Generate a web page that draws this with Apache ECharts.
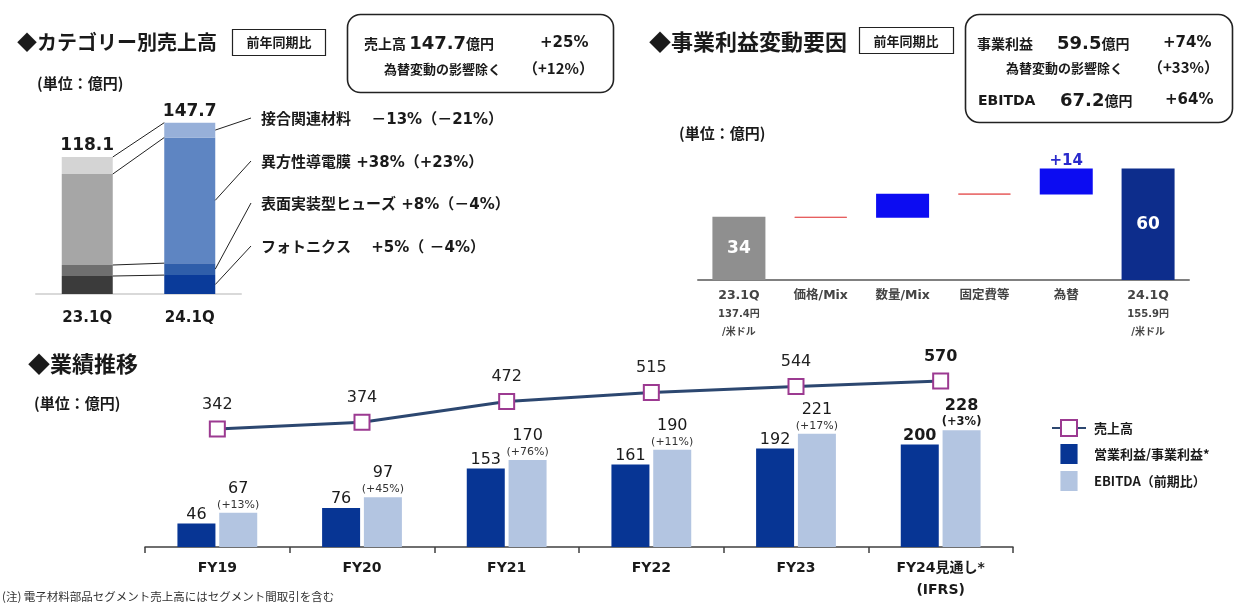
<!DOCTYPE html>
<html><head><meta charset="utf-8">
<script src="https://cdn.jsdelivr.net/npm/echarts@6/dist/echarts.min.js"></script>
<style>html,body{margin:0;padding:0;background:#fff}#c{width:1236px;height:610px}</style>
</head><body><div id="c"></div><script>
// ---------- DATA ----------
const quarters = ['23.1Q', '24.1Q'];
const quarterTotals = [118.1, 147.7];
const segNames = ['フォトニクス', '表面実装型ヒューズ', '異方性導電膜', '接合関連材料'];
const segPhotonics = [15.5, 16.3];
const segFuse = [9.5, 10.3];
const segACF = [78.4, 108.3];
const segBonding = [14.7, 12.8];
const segNotes = ['フォトニクス　 +5%（ －4%）', '表面実装型ヒューズ +8%（－4%）', '異方性導電膜 +38%（+23%）', '接合関連材料　 －13%（－21%）'];

const wfCategories = ['23.1Q', '価格/Mix', '数量/Mix', '固定費等', '為替', '24.1Q'];
const wfSubLabels = [['137.4円', '/米ドル'], [], [], [], [], ['155.9円', '/米ドル']];
const wfValues = [34, -0.5, 13, -0.5, 14, 60];

const fyCategories = ['FY19', 'FY20', 'FY21', 'FY22', 'FY23', 'FY24見通し*\n(IFRS)'];
const salesValues = [342, 374, 472, 515, 544, 570];
const opProfitValues = [46, 76, 153, 161, 192, 200];
const ebitdaValues = [67, 97, 170, 190, 221, 228];
const ebitdaGrowth = ['+13%', '+45%', '+76%', '+11%', '+17%', '+3%'];

// ---------- STYLE ----------
const FONT = "'DejaVu Sans','Noto Sans CJK JP',sans-serif";
const JFONT = "'Noto Sans CJK JP','DejaVu Sans',sans-serif";
const TXT = '#1a1a1a';
const grayCols = ['#3b3b3b', '#6f6f6f', '#a6a6a6', '#d4d4d4'];
const blueCols = ['#0a3b9a', '#2f5eaa', '#5e85c2', '#97b0d9'];
const BAR1_W = 51;

const chart = echarts.init(document.getElementById('c'), null, {renderer: 'canvas'});

const segData = [segPhotonics, segFuse, segACF, segBonding];
const catSeries = segData.map((arr, s) => ({
  type: 'bar', name: segNames[s], xAxisIndex: 0, yAxisIndex: 0, stack: 'cat', barWidth: BAR1_W,
  silent: true,
  data: arr.map((v, i) => ({value: v, itemStyle: {color: i === 0 ? grayCols[s] : blueCols[s]}})),
  label: s === 3 ? {show: true, position: 'top', distance: 3, fontFamily: FONT, fontSize: 17, fontWeight: 'bold', color: TXT,
    formatter: p => quarterTotals[p.dataIndex].toFixed(1)} : {show: false}
}));

// waterfall helpers
const wfBase = [], wfHeight = [];
let running = 0;
wfValues.forEach((v, i) => {
  if (i === 0 || i === wfValues.length - 1) { wfBase.push(0); wfHeight.push(v); running = v; }
  else if (v >= 0) { wfBase.push(running); wfHeight.push(v); running += v; }
  else { wfBase.push(running + v); wfHeight.push(-v); running += v; }
});
const lastIdx = wfValues.length - 1;
const wfDeltaData = wfHeight.map((h, i) => {
  const v = wfValues[i];
  let color = i === 0 ? '#8f8f8f' : (i === lastIdx ? '#0d2d8c' : (v >= 0 ? '#0c0cf2' : '#e65a5a'));
  const item = {value: h, itemStyle: {color: color, borderColor: v < 0 ? '#e65a5a' : color, borderWidth: v < 0 ? 1 : 0}};
  if (i === 0 || i === lastIdx) {
    item.label = {show: true, position: 'inside', color: '#fff', fontSize: 17, fontWeight: 'bold', fontFamily: FONT, formatter: String(v)};
  } else if (wfCategories[i] === '為替') {
    item.label = {show: true, position: 'top', distance: 0, color: '#2a2acc', fontSize: 15, fontWeight: 'bold', fontFamily: FONT, formatter: '+' + v};
  }
  return item;
});

const option = {
  animation: false,
  backgroundColor: '#fff',
  grid: [
    {left: 36, width: 205, top: 120, height: 174, outerBoundsMode: 'none'},
    {left: 698, width: 491, top: 150, height: 130, outerBoundsMode: 'none'},
    {left: 145, width: 868, top: 340, height: 207, outerBoundsMode: 'none'}
  ],
  xAxis: [
    {type: 'category', gridIndex: 0, data: quarters,
      axisLine: {lineStyle: {color: '#d9d9d9', width: 2}}, axisTick: {show: false},
      axisLabel: {margin: 17, fontSize: 15, fontWeight: 'bold', color: TXT, fontFamily: FONT}},
    {type: 'category', gridIndex: 1, data: wfCategories,
      axisLine: {lineStyle: {color: '#808080', width: 2}}, axisTick: {show: false},
      axisLabel: {margin: 7, interval: 0, color: '#444',
        formatter: (val, idx) => ['{a|' + val + '}'].concat(wfSubLabels[idx].map(s => '{b|' + s + '}')).join('\n'),
        rich: {a: {fontSize: 12.5, fontWeight: 'bold', fontFamily: FONT, color: '#444', lineHeight: 18},
               b: {fontSize: 10, fontWeight: 'bold', fontFamily: FONT, color: '#444', lineHeight: 18}}}},
    {type: 'category', gridIndex: 2, data: fyCategories,
      axisLine: {lineStyle: {color: '#404040', width: 1.5}},
      axisTick: {show: true, length: 6, lineStyle: {color: '#404040', width: 1.5}},
      axisLabel: {margin: 10, interval: 0, fontSize: 14, fontWeight: 'bold', color: TXT, fontFamily: FONT, lineHeight: 22}}
  ],
  yAxis: [
    {type: 'value', gridIndex: 0, min: 0, max: 150, show: false},
    {type: 'value', gridIndex: 1, min: 0, max: 70, show: false},
    {type: 'value', gridIndex: 2, min: 0, max: 404, show: false},
    {type: 'value', gridIndex: 2, min: -220, max: 765, show: false}
  ],
  legend: {
    orient: 'vertical', left: 1046, top: 414, itemWidth: 34, itemHeight: 20, itemGap: 7, selectedMode: false,
    textStyle: {fontSize: 13, fontWeight: 'bold', color: TXT, fontFamily: JFONT, padding: [0, 0, 0, 3]},
    data: [{name: '売上高'},
      {name: '営業利益/事業利益*', icon: 'path://M0,0h18v21h-18z'},
      {name: 'EBITDA（前期比）', icon: 'path://M0,0h18v21h-18z'}]
  },
  series: catSeries.concat([
    {type: 'bar', name: 'wfBase', xAxisIndex: 1, yAxisIndex: 1, stack: 'wf', barWidth: 53, silent: true,
      itemStyle: {color: 'transparent'}, data: wfBase},
    {type: 'bar', name: 'wfDelta', xAxisIndex: 1, yAxisIndex: 1, stack: 'wf', barWidth: 53, silent: true,
      data: wfDeltaData},
    {type: 'bar', name: '営業利益/事業利益*', xAxisIndex: 2, yAxisIndex: 2, barWidth: 38, barGap: '10%',
      itemStyle: {color: '#073594'},
      data: opProfitValues.map((v, i) => ({value: v, label: {fontWeight: i === opProfitValues.length - 1 ? 'bold' : 'normal'}})),
      label: {show: true, position: 'top', distance: 1, fontSize: 16, color: TXT, fontFamily: FONT, lineHeight: 16}},
    {type: 'bar', name: 'EBITDA（前期比）', xAxisIndex: 2, yAxisIndex: 2, barWidth: 38,
      itemStyle: {color: '#b3c5e1'},
      data: ebitdaValues,
      label: {show: true, position: 'top', distance: 1,
        formatter: p => {
          const last = p.dataIndex === ebitdaValues.length - 1;
          return last ? '{vb|' + p.value + '}\n{pb|(' + ebitdaGrowth[p.dataIndex] + ')}'
                      : '{v|' + p.value + '}\n{p|(' + ebitdaGrowth[p.dataIndex] + ')}';
        },
        rich: {v: {fontSize: 16, color: TXT, fontFamily: FONT, lineHeight: 18},
               p: {fontSize: 11, color: '#333', fontFamily: FONT, lineHeight: 14},
               vb: {fontSize: 16, fontWeight: 'bold', color: TXT, fontFamily: FONT, lineHeight: 18},
               pb: {fontSize: 11.5, fontWeight: 'bold', color: TXT, fontFamily: FONT, lineHeight: 14}}}},
    {type: 'line', name: '売上高', xAxisIndex: 2, yAxisIndex: 3, data: salesValues,
      symbol: 'rect', symbolSize: 15, z: 5,
      lineStyle: {color: '#2c4770', width: 3},
      itemStyle: {color: '#fff', borderColor: '#9c3a91', borderWidth: 2},
      label: {show: true, position: 'top', distance: 8, fontSize: 16, color: '#222', fontFamily: FONT,
        formatter: p => p.dataIndex === salesValues.length - 1 ? '{b|' + p.value + '}' : String(p.value),
        rich: {b: {fontSize: 16, fontWeight: 'bold', color: TXT, fontFamily: FONT}}}}
  ])
};
chart.setOption(option);

// ---------- decorations (texts, boxes, connector lines) ----------
function T(text, x, y, size, o) {
  o = o || {};
  return {type: 'text', x: x, y: y, silent: true, z: 10,
    style: {text: text, fontSize: size, fontWeight: o.w || 'bold', fontFamily: o.f || JFONT, fill: o.c || TXT,
      align: o.a || 'left', textAlign: o.a || 'left', verticalAlign: 'middle', textVerticalAlign: 'middle', rich: o.rich}};
}
function R(x, y, w, h, r, lw) {
  return {type: 'rect', silent: true, z: 9, shape: {x: x, y: y, width: w, height: h, r: r || 0},
    style: {fill: '#fff', stroke: '#222', lineWidth: lw || 1}};
}
function L(x1, y1, x2, y2, c, w) {
  return {type: 'line', silent: true, z: 10, shape: {x1: x1, y1: y1, x2: x2, y2: y2}, style: {stroke: c || '#222', lineWidth: w || 1}};
}
const boxRich = {
  a: {fontSize: 14, fontWeight: 'bold', fontFamily: JFONT, fill: TXT, color: TXT},
  b: {fontSize: 18, fontWeight: 'bold', fontFamily: FONT, fill: TXT, color: TXT}
};

const els = [];
// panel 1 header
els.push(T('◆カテゴリー別売上高', 17, 42, 20));
els.push(R(232.5, 29.5, 93, 26, 0, 1.2));
els.push(T('前年同期比', 279, 42.5, 13, {a: 'center'}));
els.push(R(347.5, 14.5, 266, 78, 13, 1.6));
els.push(T('{a|売上高 }{b|147.7}{a|億円}', 364, 44, 14, {rich: boxRich}));
els.push(T('+25%', 540, 43, 15, {f: FONT}));
els.push(T('為替変動の影響除く', 384, 69, 13));
els.push(T('（+12%）', 523, 68, 15, {f: JFONT}));
els.push(T('(単位：億円)', 37, 83, 15));

// panel 2 header
els.push(T('◆事業利益変動要因', 649, 42, 22));
els.push(R(859.5, 27.5, 94, 26, 0, 1.2));
els.push(T('前年同期比', 906, 41, 13, {a: 'center'}));
els.push(R(965.5, 14.5, 267, 108, 14, 1.6));
els.push(T('事業利益', 977, 44, 14));
els.push(T('{b|59.5}{a|億円}', 1057, 44, 14, {rich: boxRich}));
els.push(T('+74%', 1163, 43, 15, {f: FONT}));
els.push(T('為替変動の影響除く', 1006, 68, 13));
els.push(T('（+33%）', 1148, 67, 15, {f: JFONT}));
els.push(T('EBITDA', 978, 101, 14, {f: FONT}));
els.push(T('{b|67.2}{a|億円}', 1060, 101, 14, {rich: boxRich}));
els.push(T('+64%', 1165, 100, 15, {f: FONT}));
els.push(T('(単位：億円)', 679, 133, 15));

// panel 3 header / footnote
els.push(T('◆業績推移', 28, 364, 22));
els.push(T('(単位：億円)', 34, 403, 15));
els.push(T('(注) 電子材料部品セグメント売上高にはセグメント間取引を含む', 2, 597, 11.5, {w: 'normal', c: '#333'}));

// panel 1 connectors from the bar scale
const cum = segData.map((_, s) => quarters.map((q, i) => segData.slice(0, s + 1).reduce((acc, a) => acc + a[i], 0)));
const half = BAR1_W / 2;
segData.forEach((arr, s) => {
  const p0 = chart.convertToPixel({xAxisIndex: 0, yAxisIndex: 0}, [0, cum[s][0]]);
  const p1 = chart.convertToPixel({xAxisIndex: 0, yAxisIndex: 0}, [1, cum[s][1]]);
  els.push(L(p0[0] + half, p0[1], p1[0] - half, p1[1], '#222', 1));
});
const noteY = [248, 205, 163, 120];
segData.forEach((arr, s) => {
  const mid = cum[s][1] - arr[1] / 2;
  const p = chart.convertToPixel({xAxisIndex: 0, yAxisIndex: 0}, [1, mid]);
  els.push(L(p[0] + half, p[1], 251, noteY[s] - 2, '#222', 1));
  els.push(T(segNotes[s], 261, noteY[s], 15, {f: FONT}));
});

chart.setOption({graphic: {elements: els}});
</script></body></html>
